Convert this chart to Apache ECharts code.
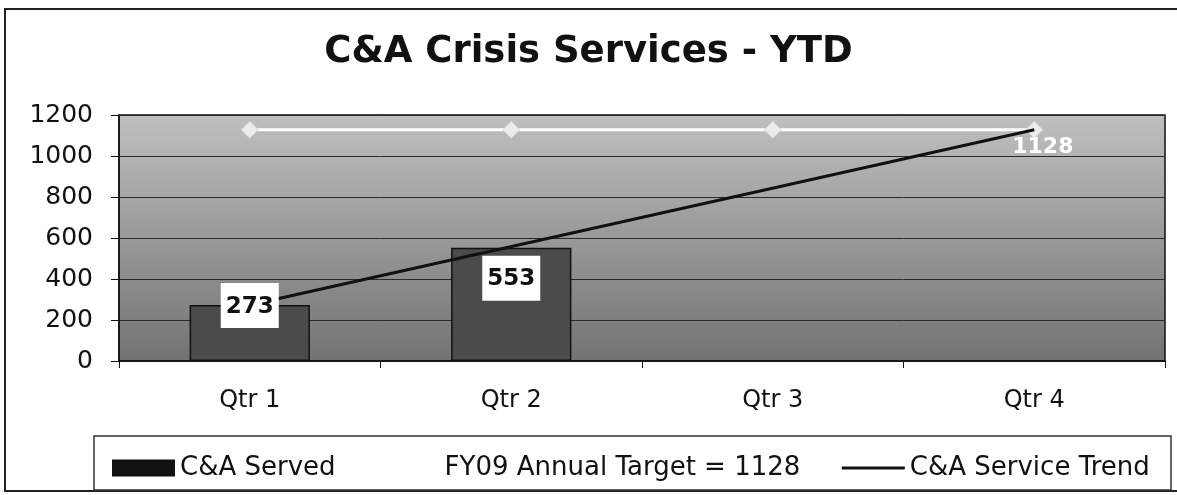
<!DOCTYPE html>
<html>
<head>
<meta charset="utf-8">
<script src="https://cdn.jsdelivr.net/npm/echarts@6/dist/echarts.min.js"></script>
<style>
html,body{margin:0;padding:0;background:#fff;}
#chart{width:1177px;height:495px;}
</style>
</head>
<body>
<div id="chart"></div>
<script>
const titleText = 'C&A Crisis Services - YTD';
const categories = ['Qtr 1', 'Qtr 2', 'Qtr 3', 'Qtr 4'];
const servedName = 'C&A Served';
const servedValues = [273, 553, null, null];
const targetName = 'FY09 Annual Target = 1128';
const targetValues = [1128, 1128, 1128, 1128];
const trendName = 'C&A Service Trend';
const trendValues = [273, null, null, 1128];
const yTicks = [0, 200, 400, 600, 800, 1000, 1200];

const FONT = 'DejaVu Sans';
const chart = echarts.init(document.getElementById('chart'), null, {renderer: 'canvas'});

const servedData = servedValues.map((v, i) => {
  if (v == null) return null;
  return i === 0
    ? {value: v, label: {position: 'top', distance: -23}}
    : {value: v, label: {position: 'insideTop', distance: 8}};
});

chart.setOption({
  backgroundColor: '#ffffff',
  animation: false,
  title: {
    text: titleText,
    left: 'center',
    top: 29,
    textStyle: {fontFamily: FONT, fontWeight: 'bold', fontSize: 37, color: '#111'}
  },
  graphic: [
    {type: 'rect', shape: {x: 5, y: 9, width: 1190, height: 482}, style: {fill: 'none', stroke: '#222', lineWidth: 2}, z: -1},
    {type: 'rect', shape: {x: 94, y: 436, width: 1077, height: 54}, style: {fill: 'none', stroke: '#333', lineWidth: 1.5}, z: -1}
  ],
  legend: {
    left: 107,
    top: 449,
    itemWidth: 63,
    itemHeight: 17,
    itemGap: 40,
    selectedMode: false,
    textStyle: {fontFamily: FONT, fontSize: 26, color: '#111', lineHeight: 28},
    data: [
      {name: servedName, icon: 'rect', itemStyle: {color: '#111', borderWidth: 0}},
      {name: targetName, itemStyle: {opacity: 0}, lineStyle: {color: '#ffffff'}},
      {name: trendName, itemStyle: {opacity: 0}, lineStyle: {color: '#111', width: 3}}
    ]
  },
  grid: {
    left: 119, right: 12, top: 115, bottom: 134,
    show: true,
    borderColor: '#111',
    borderWidth: 1.5,
    backgroundColor: new echarts.graphic.LinearGradient(0, 0, 0, 1, [
      {offset: 0, color: '#c0c0c0'},
      {offset: 1, color: '#727272'}
    ])
  },
  xAxis: {
    type: 'category',
    data: categories,
    axisLine: {lineStyle: {color: '#111', width: 1.5}},
    axisTick: {show: true, length: 7, lineStyle: {color: '#111'}},
    axisLabel: {fontFamily: FONT, fontSize: 24, color: '#111', margin: 28}
  },
  yAxis: {
    type: 'value',
    min: yTicks[0],
    max: yTicks[yTicks.length - 1],
    interval: yTicks[1] - yTicks[0],
    axisLine: {show: true, lineStyle: {color: '#111', width: 1.5}},
    axisTick: {show: true, length: 8, lineStyle: {color: '#111'}},
    axisLabel: {fontFamily: FONT, fontSize: 25, color: '#111', margin: 26, formatter: v => String(v)},
    splitLine: {show: true, lineStyle: {color: '#2a2a2a', width: 1}}
  },
  series: [
    {
      name: servedName,
      type: 'bar',
      data: servedValues,
      barWidth: '46%',
      itemStyle: {color: '#4b4b4b', borderColor: '#111', borderWidth: 1.5},
      z: 2
    },
    {
      name: targetName,
      type: 'line',
      data: targetValues,
      symbol: 'diamond',
      symbolSize: 17,
      lineStyle: {color: '#ffffff', width: 3},
      itemStyle: {color: '#ececec', borderColor: '#d6d6d6', borderWidth: 1},
      z: 3
    },
    {
      name: trendName,
      type: 'line',
      data: trendValues,
      connectNulls: true,
      symbol: 'none',
      showSymbol: false,
      lineStyle: {color: '#111', width: 3},
      itemStyle: {color: '#111'},
      endLabel: {
        show: true,
        formatter: p => String(p.value),
        fontFamily: FONT, fontWeight: 'bold', fontSize: 22, color: '#ffffff',
        offset: [-30, 18]
      },
      z: 4
    },
    {
      name: 'labels',
      type: 'bar',
      data: servedData,
      barWidth: '46%',
      barGap: '-100%',
      silent: true,
      itemStyle: {color: 'rgba(0,0,0,0)'},
      label: {
        show: true,
        fontFamily: FONT, fontWeight: 'bold', fontSize: 23, color: '#111',
        backgroundColor: '#ffffff',
        padding: [12, 5, 10, 5]
      },
      z: 10
    }
  ]
});
</script>
</body>
</html>
